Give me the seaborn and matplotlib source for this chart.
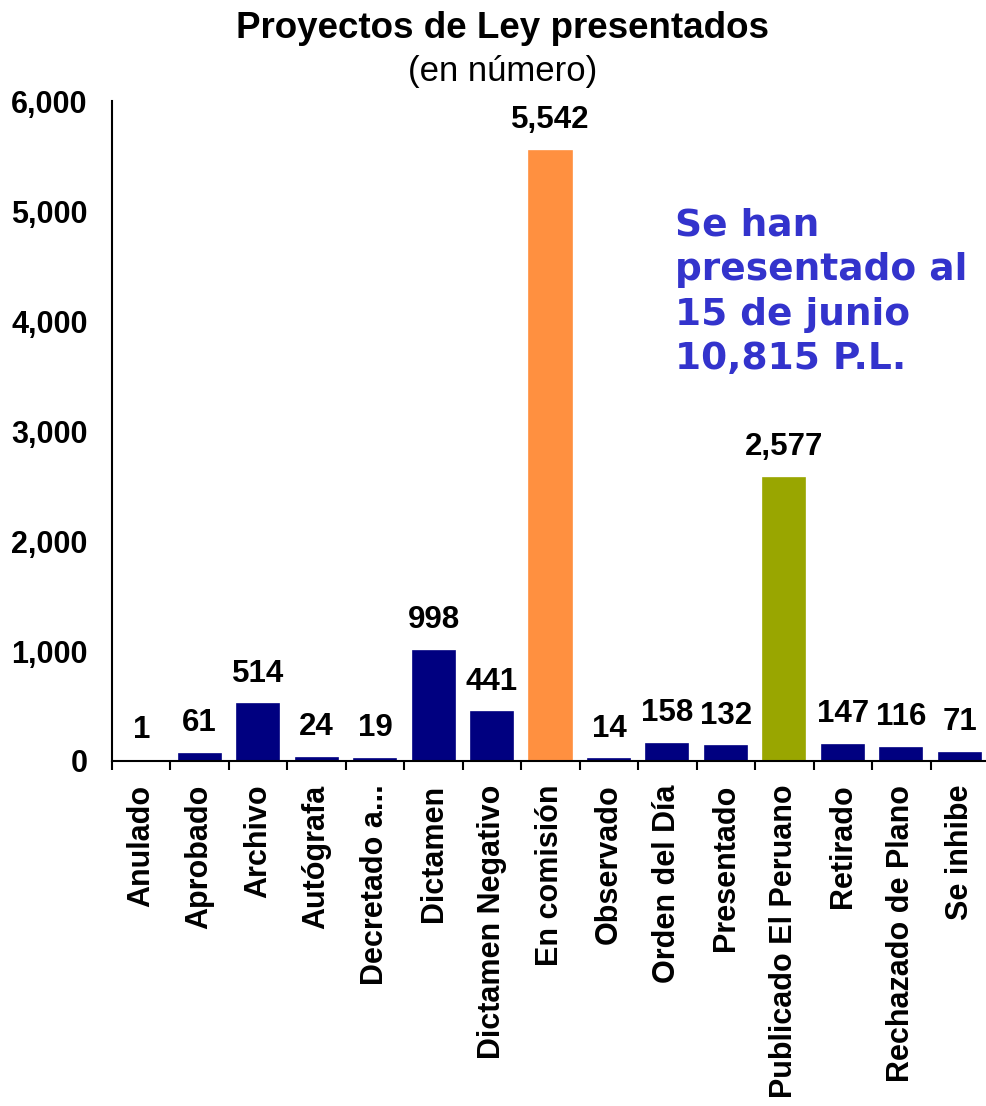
import matplotlib
matplotlib.use("Agg")
import matplotlib.pyplot as plt
import seaborn as sns
from matplotlib.ticker import FuncFormatter, FixedLocator

# data
categories = ["Anulado", "Aprobado", "Archivo", "Autógrafa", "Decretado a...", "Dictamen",
              "Dictamen Negativo", "En comisión", "Observado", "Orden del Día", "Presentado",
              "Publicado El Peruano", "Retirado", "Rechazado de Plano", "Se inhibe"]
values = [1, 61, 514, 24, 19, 998, 441, 5542, 14, 158, 132, 2577, 147, 116, 71]
bar_colors = ["#000080"] * 7 + ["#FF9040"] + ["#000080"] * 3 + ["#99A600"] + ["#000080"] * 3

sns.set_style("white")
plt.rcParams['font.family'] = ['Liberation Sans', 'DejaVu Sans']
plt.rcParams['text.color'] = 'black'
plt.rcParams['xtick.color'] = 'black'
plt.rcParams['ytick.color'] = 'black'

fig = plt.figure(figsize=(9.86, 11.06), dpi=100)
ax = fig.add_axes([112 / 986, 345 / 1106, 877 / 986, 660 / 1106])

sns.barplot(x=categories, y=values, hue=categories, palette=bar_colors, legend=False,
            width=0.72, saturation=1, ax=ax)
# thin edge in the bar colour so very small bars still show, as in the original
for patch in ax.patches:
    patch.set_edgecolor(patch.get_facecolor())
    patch.set_linewidth(1.2)

ax.set_ylim(0, 6000)
ax.set_xlim(-0.5, 14.5)
ax.yaxis.set_major_formatter(FuncFormatter(lambda v, p: f"{int(v):,}"))
ax.set_yticks(range(0, 6001, 1000))

# bar value labels
for i, v in enumerate(values):
    ax.annotate(f"{v:,}", (i, v), xytext=(0, 16.5), textcoords="offset points",
                ha="center", va="baseline", fontsize=22.5, fontweight="bold")

# axis styling
for s in ["top", "right"]:
    ax.spines[s].set_visible(False)
for s in ["left", "bottom"]:
    ax.spines[s].set_linewidth(1.5)
    ax.spines[s].set_color("black")

ax.tick_params(axis="y", direction="out", length=6.5, width=1.5, pad=11, labelsize=22)
for lab in ax.get_yticklabels():
    lab.set_fontweight("bold")
ax.tick_params(axis="x", which="major", length=0, pad=17, labelsize=22, labelrotation=90)
for lab in ax.get_xticklabels():
    lab.set_fontweight("bold")
ax.xaxis.set_minor_locator(FixedLocator([k + 0.5 for k in range(-1, 14)]))
ax.tick_params(axis="x", which="minor", direction="out", length=6.5, width=1.5, bottom=True)
ax.set_xlabel("")
ax.set_ylabel("")

# titles
fig.text(503 / 986, 1 - 28 / 1106, "Proyectos de Ley presentados", ha="center", va="center",
         fontsize=26.5, fontweight="bold")
fig.text(503 / 986, 1 - 72 / 1106, "(en número)", ha="center", va="center", fontsize=25)

# side note
fig.text(675 / 986, 1 - 208 / 1106, "Se han\npresentado al\n15 de junio\n10,815 P.L.",
         ha="left", va="top", fontsize=27, fontweight="bold", color="#3333CC",
         family="DejaVu Sans", linespacing=1.3)

fig.savefig("out.png", dpi=100)
